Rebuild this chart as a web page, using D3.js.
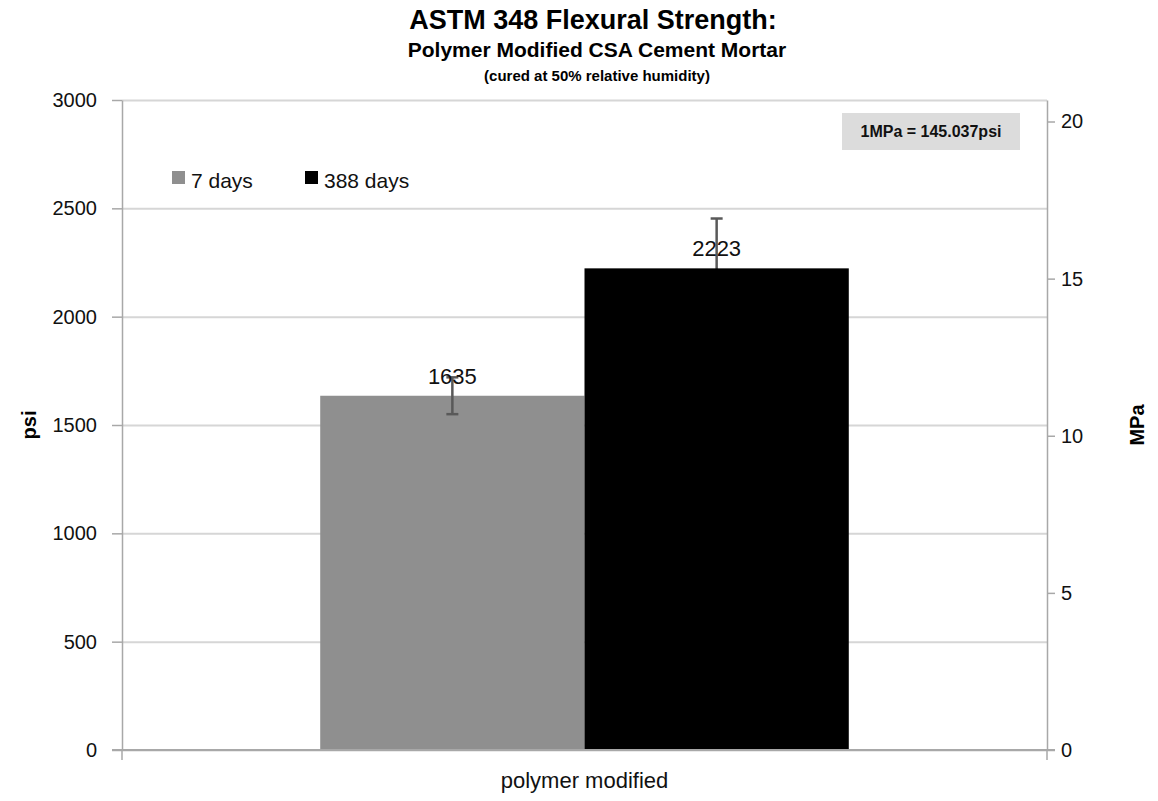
<!DOCTYPE html>
<html>
<head>
<meta charset="utf-8">
<script src="https://cdn.jsdelivr.net/npm/d3@7"></script>
<style>
  html, body { margin: 0; padding: 0; background: #fff; }
  svg { display: block; font-family: "Liberation Sans", Arial, sans-serif; }
</style>
</head>
<body>
<svg id="chart" width="1158" height="801"></svg>
<script>
// ---- data ----
const categories = ["polymer modified"];
const seriesNames = ["7 days", "388 days"];
const seriesColors = ["#8f8f8f", "#000000"];
const values = [1635, 2223];        // psi
const errorsPlus = [85, 230];       // psi
const errorsMinus = [85, 230];      // psi (lower part of the 388-day bar hidden inside bar)
const psiTicks = [0, 500, 1000, 1500, 2000, 2500, 3000];
const mpaTicks = [0, 5, 10, 15, 20];
const psiPerMPa = 145.037;
const titleLines = ["ASTM 348 Flexural Strength:", "Polymer Modified CSA Cement Mortar", "(cured at 50% relative humidity)"];
const noteText = "1MPa = 145.037psi";

// ---- layout ----
const svg = d3.select("#chart");
const L = 122, R = 1047, T = 100, B = 750;

const y = d3.scaleLinear().domain([0, 3000]).range([B, T]);
const yR = d3.scaleLinear().domain([0, 3000 / psiPerMPa]).range([B, T]);
const x0 = d3.scaleBand().domain(categories).range([L, R]).paddingInner(0).paddingOuter(0);
const x1 = d3.scaleBand().domain(seriesNames).range([0, x0.bandwidth()]).paddingInner(0).paddingOuter(0.75);

const gridColor = "#d6d6d6";
const axisColor = "#a8a8a8";

// gridlines
const grid = svg.append("g").attr("transform", `translate(${L},0)`)
  .call(d3.axisLeft(y).tickValues(psiTicks).tickSize(-(R - L)).tickFormat(""));
grid.select(".domain").remove();
grid.selectAll("line").attr("stroke", gridColor).attr("stroke-width", 2);

const data = seriesNames.map((s, i) => ({ cat: categories[0], s, v: values[i], ep: errorsPlus[i], em: errorsMinus[i], c: seriesColors[i] }));

// bars, each series followed by its error bar (Excel-like order: black bar hides the lower part)
data.forEach((d, i) => {
  const bx = x0(d.cat) + x1(d.s);
  const cx = bx + x1.bandwidth() / 2;
  // error bar first for series drawn under the bar when the bar is dark
  const eb = svg.append("g").attr("stroke", "#595959").attr("stroke-width", 2.5);
  const drawErr = () => {
    eb.append("line").attr("x1", cx).attr("x2", cx).attr("y1", y(d.v + d.ep)).attr("y2", y(d.v - d.em));
    [d.v + d.ep, d.v - d.em].forEach(v => {
      eb.append("line").attr("x1", cx - 6).attr("x2", cx + 6).attr("y1", y(v)).attr("y2", y(v));
    });
  };
  if (i === 1) drawErr();
  svg.append("rect")
    .attr("x", bx)
    .attr("width", x1.bandwidth())
    .attr("y", y(d.v))
    .attr("height", y(0) - y(d.v))
    .attr("fill", d.c);
  if (i === 0) { eb.raise(); drawErr(); }
});

// left axis
const ax = svg.append("g").attr("transform", `translate(${L},0)`)
  .call(d3.axisLeft(y).tickValues(psiTicks).tickSize(10).tickSizeOuter(0).tickPadding(15).tickFormat(d3.format("d")));
ax.select(".domain").attr("stroke", axisColor).attr("stroke-width", 1.5);
ax.selectAll(".tick line").attr("stroke", axisColor).attr("stroke-width", 1.5);
ax.selectAll("text").attr("font-size", 20).attr("fill", "#111").attr("font-family", "Liberation Sans");

// right axis
const axR = svg.append("g").attr("transform", `translate(${R},0)`)
  .call(d3.axisRight(yR).tickValues(mpaTicks).tickSize(8).tickSizeOuter(0).tickPadding(6).tickFormat(d3.format("d")));
axR.select(".domain").attr("stroke", axisColor).attr("stroke-width", 1.5);
axR.selectAll(".tick line").attr("stroke", axisColor).attr("stroke-width", 1.5);
axR.selectAll("text").attr("font-size", 20).attr("fill", "#111").attr("font-family", "Liberation Sans");

// bottom axis
const axB = svg.append("g").attr("transform", `translate(0,${B})`)
  .call(d3.axisBottom(x0).tickSize(0).tickPadding(22));
axB.select(".domain").remove();
axB.selectAll("text").attr("font-size", 22).attr("fill", "#111").attr("font-family", "Liberation Sans");
const [xa, xb] = x0.range();
svg.append("line").attr("x1", xa - 10).attr("x2", xb + 8).attr("y1", B).attr("y2", B)
  .attr("stroke", axisColor).attr("stroke-width", 2);
svg.selectAll(".edgeTick").data([xa, xb]).join("line")
  .attr("x1", d => d).attr("x2", d => d).attr("y1", B).attr("y2", B + 10)
  .attr("stroke", axisColor).attr("stroke-width", 1.5);

// value labels
svg.append("g").selectAll("text").data(data).join("text")
  .attr("x", d => x0(d.cat) + x1(d.s) + x1.bandwidth() / 2)
  .attr("y", d => y(d.v) - 12)
  .attr("text-anchor", "middle")
  .attr("font-size", 22)
  .attr("fill", "#111")
  .text(d => d.v);

// axis titles
svg.append("text").attr("transform", `translate(36,${(T + B) / 2}) rotate(-90)`)
  .attr("text-anchor", "middle").attr("font-weight", "bold").attr("font-size", 20).text("psi");
svg.append("text").attr("transform", `translate(1144,${(T + B) / 2}) rotate(-90)`)
  .attr("text-anchor", "middle").attr("font-weight", "bold").attr("font-size", 20).text("MPa");

// titles
svg.append("text").attr("x", 593).attr("y", 29).attr("text-anchor", "middle")
  .attr("font-weight", "bold").attr("font-size", 27).text(titleLines[0]);
svg.append("text").attr("x", 597).attr("y", 57).attr("text-anchor", "middle")
  .attr("font-weight", "bold").attr("font-size", 21).text(titleLines[1]);
svg.append("text").attr("x", 597).attr("y", 81).attr("text-anchor", "middle")
  .attr("font-weight", "bold").attr("font-size", 15).text(titleLines[2]);

// legend
const legX = [172, 305];
const leg = svg.append("g").selectAll("g").data(seriesNames).join("g")
  .attr("transform", (d, i) => `translate(${legX[i]},171)`);
leg.append("rect").attr("width", 13).attr("height", 13).attr("fill", (d, i) => seriesColors[i]);
leg.append("text").attr("x", 19).attr("y", 17).attr("font-size", 21).attr("fill", "#111").text(d => d);

// note box
svg.append("rect").attr("x", 842).attr("y", 113).attr("width", 178).attr("height", 37).attr("fill", "#dcdcdc");
svg.append("text").attr("x", 931).attr("y", 137).attr("text-anchor", "middle")
  .attr("font-weight", "bold").attr("font-size", 16).attr("fill", "#111").text(noteText);
</script>
</body>
</html>
